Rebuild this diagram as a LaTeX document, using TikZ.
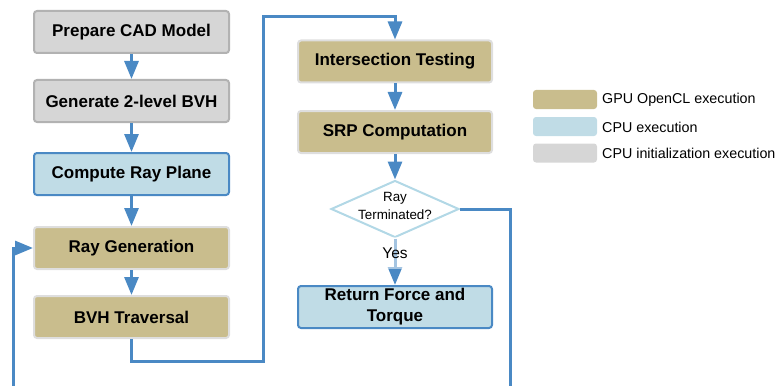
\documentclass[tikz,border=0pt]{standalone}
\usepackage{fontspec}
\setmainfont{Liberation Sans}
\usetikzlibrary{arrows.meta,shapes.geometric}
\definecolor{gpu}{RGB}{201,189,141}
\definecolor{cpu}{RGB}{192,220,230}
\definecolor{initc}{RGB}{214,214,214}
\definecolor{arr}{RGB}{74,137,196}
\definecolor{dia}{RGB}{178,216,230}
\begin{document}
\begin{tikzpicture}[x=1pt,y=-1pt,
  box/.style={rounded corners=3pt, line width=2pt, minimum height=42pt,
    font=\fontsize{17}{21}\selectfont\bfseries, align=center, inner sep=0pt},
  leftbox/.style={box, minimum width=195pt},
  rightbox/.style={box, minimum width=194pt},
  gpubox/.style={fill=gpu, draw=black!13},
  cpubox/.style={fill=cpu, draw=arr},
  initbox/.style={fill=initc, draw=black!30},
  flow/.style={draw=arr, line width=3pt, -{Triangle[length=18pt,width=14pt]}},
  plain/.style={draw=arr, line width=3pt},
  swatch/.style={fill=#1, rounded corners=3pt, minimum width=64pt, minimum height=19pt, inner sep=0pt},
  legtext/.style={font=\fontsize{14.3}{16}\selectfont, anchor=west, inner sep=0pt}]
\useasboundingbox (0,0) rectangle (775,385);

% left column
\node[leftbox, initbox] (prep) at (131.5,32) {Prepare CAD Model};
\node[leftbox, initbox] (gen) at (131.5,101) {Generate 2-level BVH};
\node[leftbox, cpubox] (plane) at (131.5,174) {Compute Ray Plane};
\node[leftbox, gpubox] (raygen) at (131.5,248) {Ray Generation};
\node[leftbox, gpubox] (bvh) at (131.5,317) {BVH Traversal};

% right column
\node[rightbox, gpubox] (inter) at (395,61.5) {Intersection Testing};
\node[rightbox, gpubox] (srp) at (395,132) {SRP Computation};
\node[diamond, draw=dia, fill=white, line width=2pt, minimum width=128pt, minimum height=57pt, inner sep=0pt] (term) at (395,209) {};
\node[font=\fontsize{13.4}{18}\selectfont, align=center, inner sep=0pt] (termtxt) at (395,206) {Ray\\Terminated?};
\node[rightbox, cpubox] (ret) at (395,307) {Return Force and\\Torque};

% legend
\node[swatch=gpu] (lg1) at (565,99.5) {};
\node[legtext] (lt1) at (602,100) {GPU OpenCL execution};
\node[swatch=cpu] (lg2) at (565,126.5) {};
\node[legtext] (lt2) at (602,127) {CPU execution};
\node[swatch=initc] (lg3) at (565,153) {};
\node[legtext] (lt3) at (602,153.5) {CPU initialization execution};

% coordinates for free ends / corners
\coordinate (c1) at (263,361);
\coordinate (c2) at (263,17);
\coordinate (fb) at (13,386);
\coordinate (rb) at (510,386);

% connectors
\draw[flow] (prep) -- (gen);
\draw[flow] (gen) -- (plane);
\draw[flow] (plane) -- (raygen);
\draw[flow] (raygen) -- (bvh);
\draw[flow] (bvh.south) |- (c1) -- (c2) -| (inter.north);
\draw[flow] (inter) -- (srp);
\draw[flow] (srp) -- (term.north);
\draw[flow] (term.south) -- (ret.north);
\node[fill=white, fill opacity=0.5, text opacity=1, inner sep=0pt, minimum width=40pt, minimum height=32pt, font=\fontsize{15.5}{18}\selectfont] (yes) at (395,253) {Yes};
\draw[plain] (term.east) -| (rb);
\draw[flow] (fb) |- (raygen.west);
\end{tikzpicture}
\end{document}
